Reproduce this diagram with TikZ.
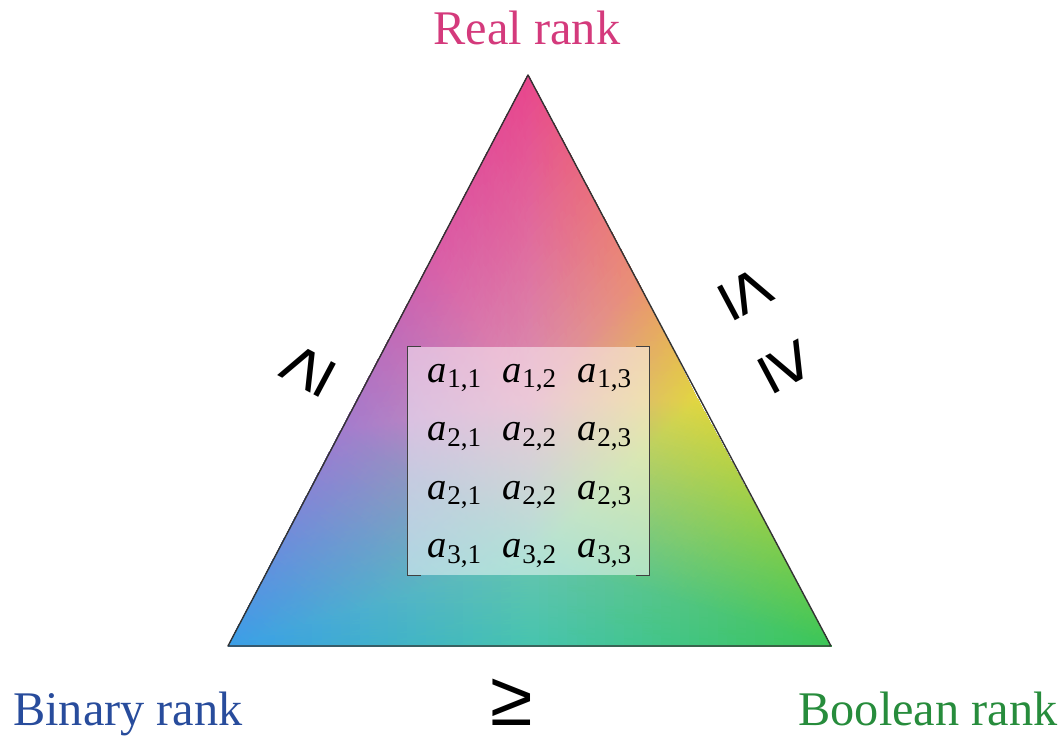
\documentclass[tikz,border=0pt]{standalone}
\usepackage{fontspec}
\setmainfont{Liberation Serif}
\newfontfamily\relfont{Liberation Sans}
\usepackage{pgfplots}
\pgfplotsset{compat=1.18}
\usetikzlibrary{positioning}

\definecolor{realpink}{HTML}{D43A7C}
\definecolor{binblue}{HTML}{284C9C}
\definecolor{boolgreen}{HTML}{278C3C}
\definecolor{cornerpink}{HTML}{E8458C}
\definecolor{edgemagenta}{HTML}{DA5CA6}
\definecolor{edgepurple}{HTML}{A27CCE}
\definecolor{cornerblue}{HTML}{3A9EE8}
\definecolor{edgeteal}{HTML}{46C4AE}
\definecolor{cornergreen}{HTML}{3CC656}
\definecolor{edgeyellow}{HTML}{E2D640}
\definecolor{edgeorange}{HTML}{EA8E74}
\definecolor{midpink}{HTML}{D890B0}
\definecolor{midteal}{HTML}{64C4AE}

\tikzset{
  ranklabel/.style={font=\fontsize{27.5}{30}\selectfont, anchor=base, inner sep=0pt},
  relsign/.style={font=\relfont\fontsize{44}{46}\selectfont, inner sep=0pt},
  entry/.style={font=\fontsize{22}{24}\selectfont, inner sep=0pt},
  bracket/.style={draw=black!75, line width=0.8pt},
}

\begin{document}
\begin{tikzpicture}[x=0.02cm, y=0.02cm]
  \useasboundingbox (0,0) rectangle (1064,737);
  \coordinate (ptop) at (528,662);
  \coordinate (pleft) at (228,91);
  \coordinate (pright) at (831,91);

  % colour mesh of the triangle
  \begin{axis}[anchor=origin, at={(0,0)}, x=0.02cm, y=0.02cm, hide axis,
      xmin=0, xmax=1064, ymin=0, ymax=737, clip=false, disabledatascaling]
    \addplot[patch, shader=interp, mesh/color input=explicit] table[meta=c] {
      x y c
      530 337 color=midpink
      528 662 color=cornerpink
      436 487 color=edgemagenta
      530 337 color=midpink
      436 487 color=edgemagenta
      341 307 color=edgepurple
      530 337 color=midpink
      698 337 color=edgeyellow
      637 457 color=edgeorange
      530 337 color=midpink
      637 457 color=edgeorange
      528 662 color=cornerpink
      530 337 color=midpink
      341 307 color=edgepurple
      530 177 color=midteal
      530 337 color=midpink
      530 177 color=midteal
      698 337 color=edgeyellow
      530 177 color=midteal
      341 307 color=edgepurple
      228 91 color=cornerblue
      530 177 color=midteal
      228 91 color=cornerblue
      530 91 color=edgeteal
      530 177 color=midteal
      530 91 color=edgeteal
      831 91 color=cornergreen
      530 177 color=midteal
      831 91 color=cornergreen
      698 337 color=edgeyellow
    };
  \end{axis}

  \draw[draw=black!80, line width=0.8pt, line join=round] (ptop) -- (pleft) -- (pright) -- cycle;

  % labels
  \node (real) [ranklabel, text=realpink] at (527,692) {Real rank};
  \node (binary) [ranklabel, text=binblue] at (128,12) {Binary rank};
  \node (boolean) [ranklabel, text=boolgreen] at (928,12) {Boolean rank};

  \node (gebottom) [relsign] at (512,35) {≥};
  \node (geleft) [relsign, rotate=62] at (307,367) {≥};
  \node (leright) [relsign, rotate=-62] at (747,444) {≤};
  \node (geright) [relsign, rotate=-62] at (787,371) {≥};

  % matrix
  \node (panel) [fill=white, fill opacity=0.5, minimum width=4.82cm, minimum height=4.56cm, inner sep=0pt] at (528.5,276) {};
  \draw[bracket] ([xshift=0.26cm]panel.north west) -- (panel.north west) -- (panel.south west) -- ++(13,0);
  \draw[bracket] ([xshift=-0.26cm]panel.north east) -- (panel.north east) -- (panel.south east) -- ++(-13,0);
  \foreach \r/\i in {1/1,2/2,3/2,4/3}
    \foreach \c in {1,2,3}
      \node (a\r\c) [entry] at ({380+75*\c},{359-58.5*(\r-1)}) {\textit{a}\textsubscript{\i,\c}};
\end{tikzpicture}
\end{document}
